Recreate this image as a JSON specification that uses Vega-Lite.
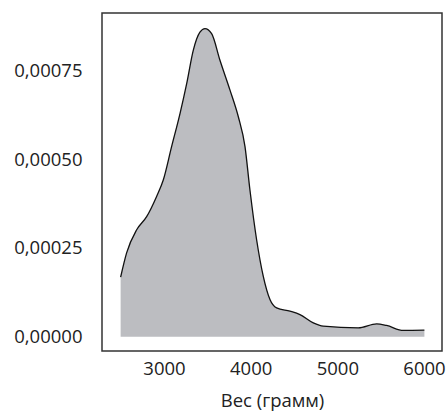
{
  "$schema": "https://vega.github.io/schema/vega-lite/v6.json",
  "autosize": {"type": "none"},
  "padding": {"left": 102, "top": 13, "right": 6, "bottom": 64},
  "width": 340,
  "height": 338,
  "background": "white",
  "config": {
    "view": {"stroke": "#333333", "strokeWidth": 1.5},
    "axis": {"labelFont": "Open Sans", "titleFont": "Open Sans", "labelFontSize": 18.5, "titleFontSize": 18.5, "labelColor": "#222222", "titleColor": "#222222", "titleFontWeight": "normal", "grid": false, "domain": false, "ticks": false}
  },
  "data": {"values": [
    {"w": 2500, "d": 0.000168},
    {"w": 2569, "d": 0.000236},
    {"w": 2685, "d": 0.000301},
    {"w": 2800, "d": 0.000338},
    {"w": 2915, "d": 0.000395},
    {"w": 2992, "d": 0.000441},
    {"w": 3088, "d": 0.000535},
    {"w": 3185, "d": 0.000628},
    {"w": 3262, "d": 0.000712},
    {"w": 3338, "d": 0.000806},
    {"w": 3415, "d": 0.000857},
    {"w": 3473, "d": 0.000867},
    {"w": 3550, "d": 0.000853},
    {"w": 3646, "d": 0.000778},
    {"w": 3762, "d": 0.000694},
    {"w": 3858, "d": 0.000619},
    {"w": 3935, "d": 0.000535},
    {"w": 3992, "d": 0.000413},
    {"w": 4069, "d": 0.000273},
    {"w": 4146, "d": 0.000170},
    {"w": 4223, "d": 0.000105},
    {"w": 4300, "d": 0.0000813},
    {"w": 4454, "d": 0.000072},
    {"w": 4569, "d": 0.0000626},
    {"w": 4723, "d": 0.0000393},
    {"w": 4838, "d": 0.00003},
    {"w": 5242, "d": 0.0000252},
    {"w": 5454, "d": 0.0000365},
    {"w": 5569, "d": 0.0000318},
    {"w": 5762, "d": 0.0000178},
    {"w": 6005, "d": 0.0000185}
  ]},
  "encoding": {
    "x": {"field": "w", "type": "quantitative", "scale": {"domain": [2285, 6208], "nice": false, "zero": false},
      "axis": {"values": [3000, 4000, 5000, 6000], "format": "d", "labelPadding": 8, "titlePadding": 14, "title": "Вес (грамм)"}},
    "y": {"field": "d", "type": "quantitative", "scale": {"domain": [-0.00004, 0.000911], "nice": false, "zero": false},
      "axis": {"values": [0, 0.00025, 0.0005, 0.00075], "labelExpr": "replace(format(datum.value, '.5f'), '.', ',')", "labelPadding": 20, "title": null}}
  },
  "layer": [
    {"mark": {"type": "area", "interpolate": "monotone", "color": "#bcbdc1"}, "encoding": {"y2": {"datum": 0}}},
    {"mark": {"type": "line", "interpolate": "monotone", "color": "#111111", "strokeWidth": 1.3}}
  ]
}
